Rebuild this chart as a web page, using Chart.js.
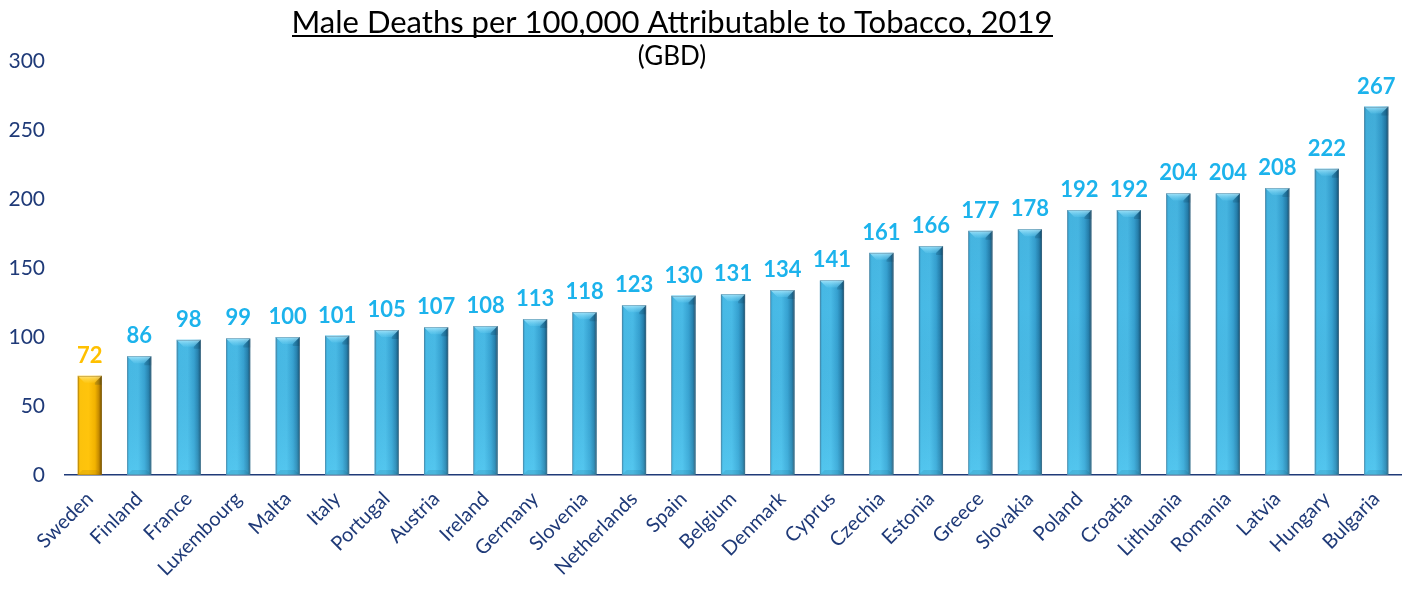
<!DOCTYPE html>
<html>
<head>
<meta charset="utf-8">
<title>Male Deaths per 100,000 Attributable to Tobacco, 2019</title>
<script src="https://cdn.jsdelivr.net/npm/chart.js@4/dist/chart.umd.min.js"></script>
<style>
  html, body { margin: 0; padding: 0; background: #ffffff; }
  #wrap { width: 1407px; height: 597px; position: relative; }
</style>
</head>
<body>
<div id="wrap"><canvas id="chart"></canvas></div>
<script>
// Countries, sorted by rate
const countries = ['Sweden', 'Finland', 'France', 'Luxembourg', 'Malta', 'Italy', 'Portugal', 'Austria',
  'Ireland', 'Germany', 'Slovenia', 'Netherlands', 'Spain', 'Belgium', 'Denmark', 'Cyprus', 'Czechia',
  'Estonia', 'Greece', 'Slovakia', 'Poland', 'Croatia', 'Lithuania', 'Romania', 'Latvia', 'Hungary', 'Bulgaria'];

// Male deaths per 100,000 attributable to tobacco, 2019
const deathRates = [72, 86, 98, 99, 100, 101, 105, 107, 108, 113, 118, 123, 130, 131, 134, 141, 161,
  166, 177, 178, 192, 192, 204, 204, 208, 222, 267];

const yTicks = [0, 50, 100, 150, 200, 250, 300];

const titleText = 'Male Deaths per 100,000 Attributable to Tobacco, 2019';
const subtitleText = '(GBD)';

const highlight = 'Sweden';
const NAVY = '#1f3a78';
const FONT = 'Lato, "Open Sans", sans-serif';

const blueStops = [[0, '#3699c6'], [0.1, '#4abfeb'], [0.45, '#4cc0ec'], [0.72, '#38a5d5'], [0.88, '#2883b0'], [1, '#18506f']];
const goldStops = [[0, '#d99d00'], [0.1, '#fcc20c'], [0.45, '#ffc40c'], [0.72, '#f2b300'], [0.88, '#c48a00'], [1, '#6a4a00']];

function barFill(ctx) {
  const chart = ctx.chart;
  const xs = chart.scales.x;
  const isHi = countries[ctx.dataIndex] === highlight;
  const stops = isHi ? goldStops : blueStops;
  if (!xs || !chart.chartArea || xs.width === undefined) return stops[2][1];
  const cx = xs.getPixelForValue(ctx.dataIndex);
  const half = (xs.width / countries.length) * 0.49 / 2;
  const g = chart.ctx.createLinearGradient(cx - half, 0, cx + half, 0);
  stops.forEach(s => g.addColorStop(s[0], s[1]));
  return g;
}

// Shading, bevelled top and bottom edges and a soft outline on every bar
const bevelPlugin = {
  id: 'bevel',
  afterDatasetsDraw(chart) {
    const c = chart.ctx;
    const meta = chart.getDatasetMeta(0);
    const area = chart.chartArea;
    meta.data.forEach((bar, i) => {
      const p = bar.getProps(['x', 'y', 'base', 'width'], true);
      const l = p.x - p.width / 2, r = p.x + p.width / 2, t = p.y, b = p.base;
      const d = Math.min(7, p.width / 3);
      const isHi = countries[i] === highlight;
      c.save();
      // vertical shading: deeper towards the top of the plot, brighter at the base
      if (!isHi) {
        const vg = c.createLinearGradient(0, area.top, 0, area.bottom);
        vg.addColorStop(0, 'rgba(0,50,90,0.16)');
        vg.addColorStop(0.6, 'rgba(0,50,90,0.04)');
        vg.addColorStop(1, 'rgba(120,230,255,0.18)');
        c.fillStyle = vg;
        c.fillRect(l, t, r - l, b - t);
      }
      // top bevel
      c.beginPath();
      c.moveTo(l, t); c.lineTo(r, t); c.lineTo(r - d, t + d); c.lineTo(l + d, t + d); c.closePath();
      const tg = c.createLinearGradient(0, t, 0, t + d);
      tg.addColorStop(0, isHi ? 'rgba(255,236,160,0.8)' : 'rgba(185,238,255,0.8)');
      tg.addColorStop(1, isHi ? 'rgba(255,215,60,0.25)' : 'rgba(110,210,245,0.25)');
      c.fillStyle = tg; c.fill();
      // right top facet
      c.beginPath();
      c.moveTo(r, t); c.lineTo(r - d, t + d); c.lineTo(r - d, t + d + 2); c.lineTo(r, t + d + 2); c.closePath();
      c.fillStyle = 'rgba(0,40,60,0.18)'; c.fill();
      // bottom bevel
      c.beginPath();
      c.moveTo(l, b); c.lineTo(r, b); c.lineTo(r - d * 0.7, b - d * 0.7); c.lineTo(l + d * 0.7, b - d * 0.7); c.closePath();
      c.fillStyle = isHi ? 'rgba(120,80,0,0.12)' : 'rgba(10,70,100,0.12)'; c.fill();
      // outline
      c.strokeStyle = isHi ? 'rgba(150,110,20,0.4)' : 'rgba(90,120,140,0.4)';
      c.lineWidth = 1;
      c.strokeRect(Math.round(l) + 0.5, Math.round(t) + 0.5, Math.round(r - l) - 1, Math.round(b - t) - 1);
      c.restore();
    });
  }
};

// Value labels above the bars
const valueLabelPlugin = {
  id: 'valueLabels',
  afterDatasetsDraw(chart) {
    const c = chart.ctx;
    const meta = chart.getDatasetMeta(0);
    c.save();
    c.font = 'bold 22px ' + FONT;
    c.textAlign = 'center';
    c.textBaseline = 'alphabetic';
    meta.data.forEach((bar, i) => {
      c.fillStyle = countries[i] === highlight ? '#ffc000' : '#1cb3ec';
      c.fillText(String(deathRates[i]), bar.x, bar.y - 13);
    });
    c.restore();
  }
};

// Underlined title and subtitle
const headingPlugin = {
  id: 'heading',
  afterDraw(chart) {
    const c = chart.ctx;
    const cx = 672;
    c.save();
    c.fillStyle = '#000000';
    c.textAlign = 'center';
    c.textBaseline = 'alphabetic';
    c.font = '31px ' + FONT;
    c.fillText(titleText, cx, 33);
    const w = c.measureText(titleText).width;
    c.fillRect(Math.round(cx - w / 2), 35, Math.round(w), 2);
    c.font = '26px ' + FONT;
    c.fillText(subtitleText, cx, 65);
    c.restore();
  }
};

new Chart(document.getElementById('chart'), {
  type: 'bar',
  data: {
    labels: countries,
    datasets: [{
      data: deathRates,
      backgroundColor: barFill,
      borderWidth: 0,
      barPercentage: 0.49,
      categoryPercentage: 1.0
    }]
  },
  options: {
    responsive: true,
    maintainAspectRatio: false,
    animation: false,
    devicePixelRatio: 1,
    layout: { padding: { top: 61, right: 6, left: 0, bottom: 0 } },
    plugins: {
      legend: { display: false },
      tooltip: { enabled: false },
      title: { display: false }
    },
    scales: {
      x: {
        grid: { display: false, drawTicks: false },
        border: { display: true, color: NAVY, width: 1.5 },
        ticks: {
          color: NAVY,
          font: { family: FONT, size: 20 },
          minRotation: 45,
          maxRotation: 45,
          padding: 12,
          autoSkip: false
        },
        afterFit(scale) { scale.height = 122; }
      },
      y: {
        min: 0,
        max: 300,
        afterBuildTicks(scale) { scale.ticks = yTicks.map(v => ({ value: v })); },
        grid: { display: false, drawTicks: false },
        border: { display: false },
        ticks: {
          color: NAVY,
          font: { family: FONT, size: 21 },
          padding: 20
        },
        afterFit(scale) { scale.width = 65; }
      }
    }
  },
  plugins: [bevelPlugin, valueLabelPlugin, headingPlugin]
});
</script>
</body>
</html>
